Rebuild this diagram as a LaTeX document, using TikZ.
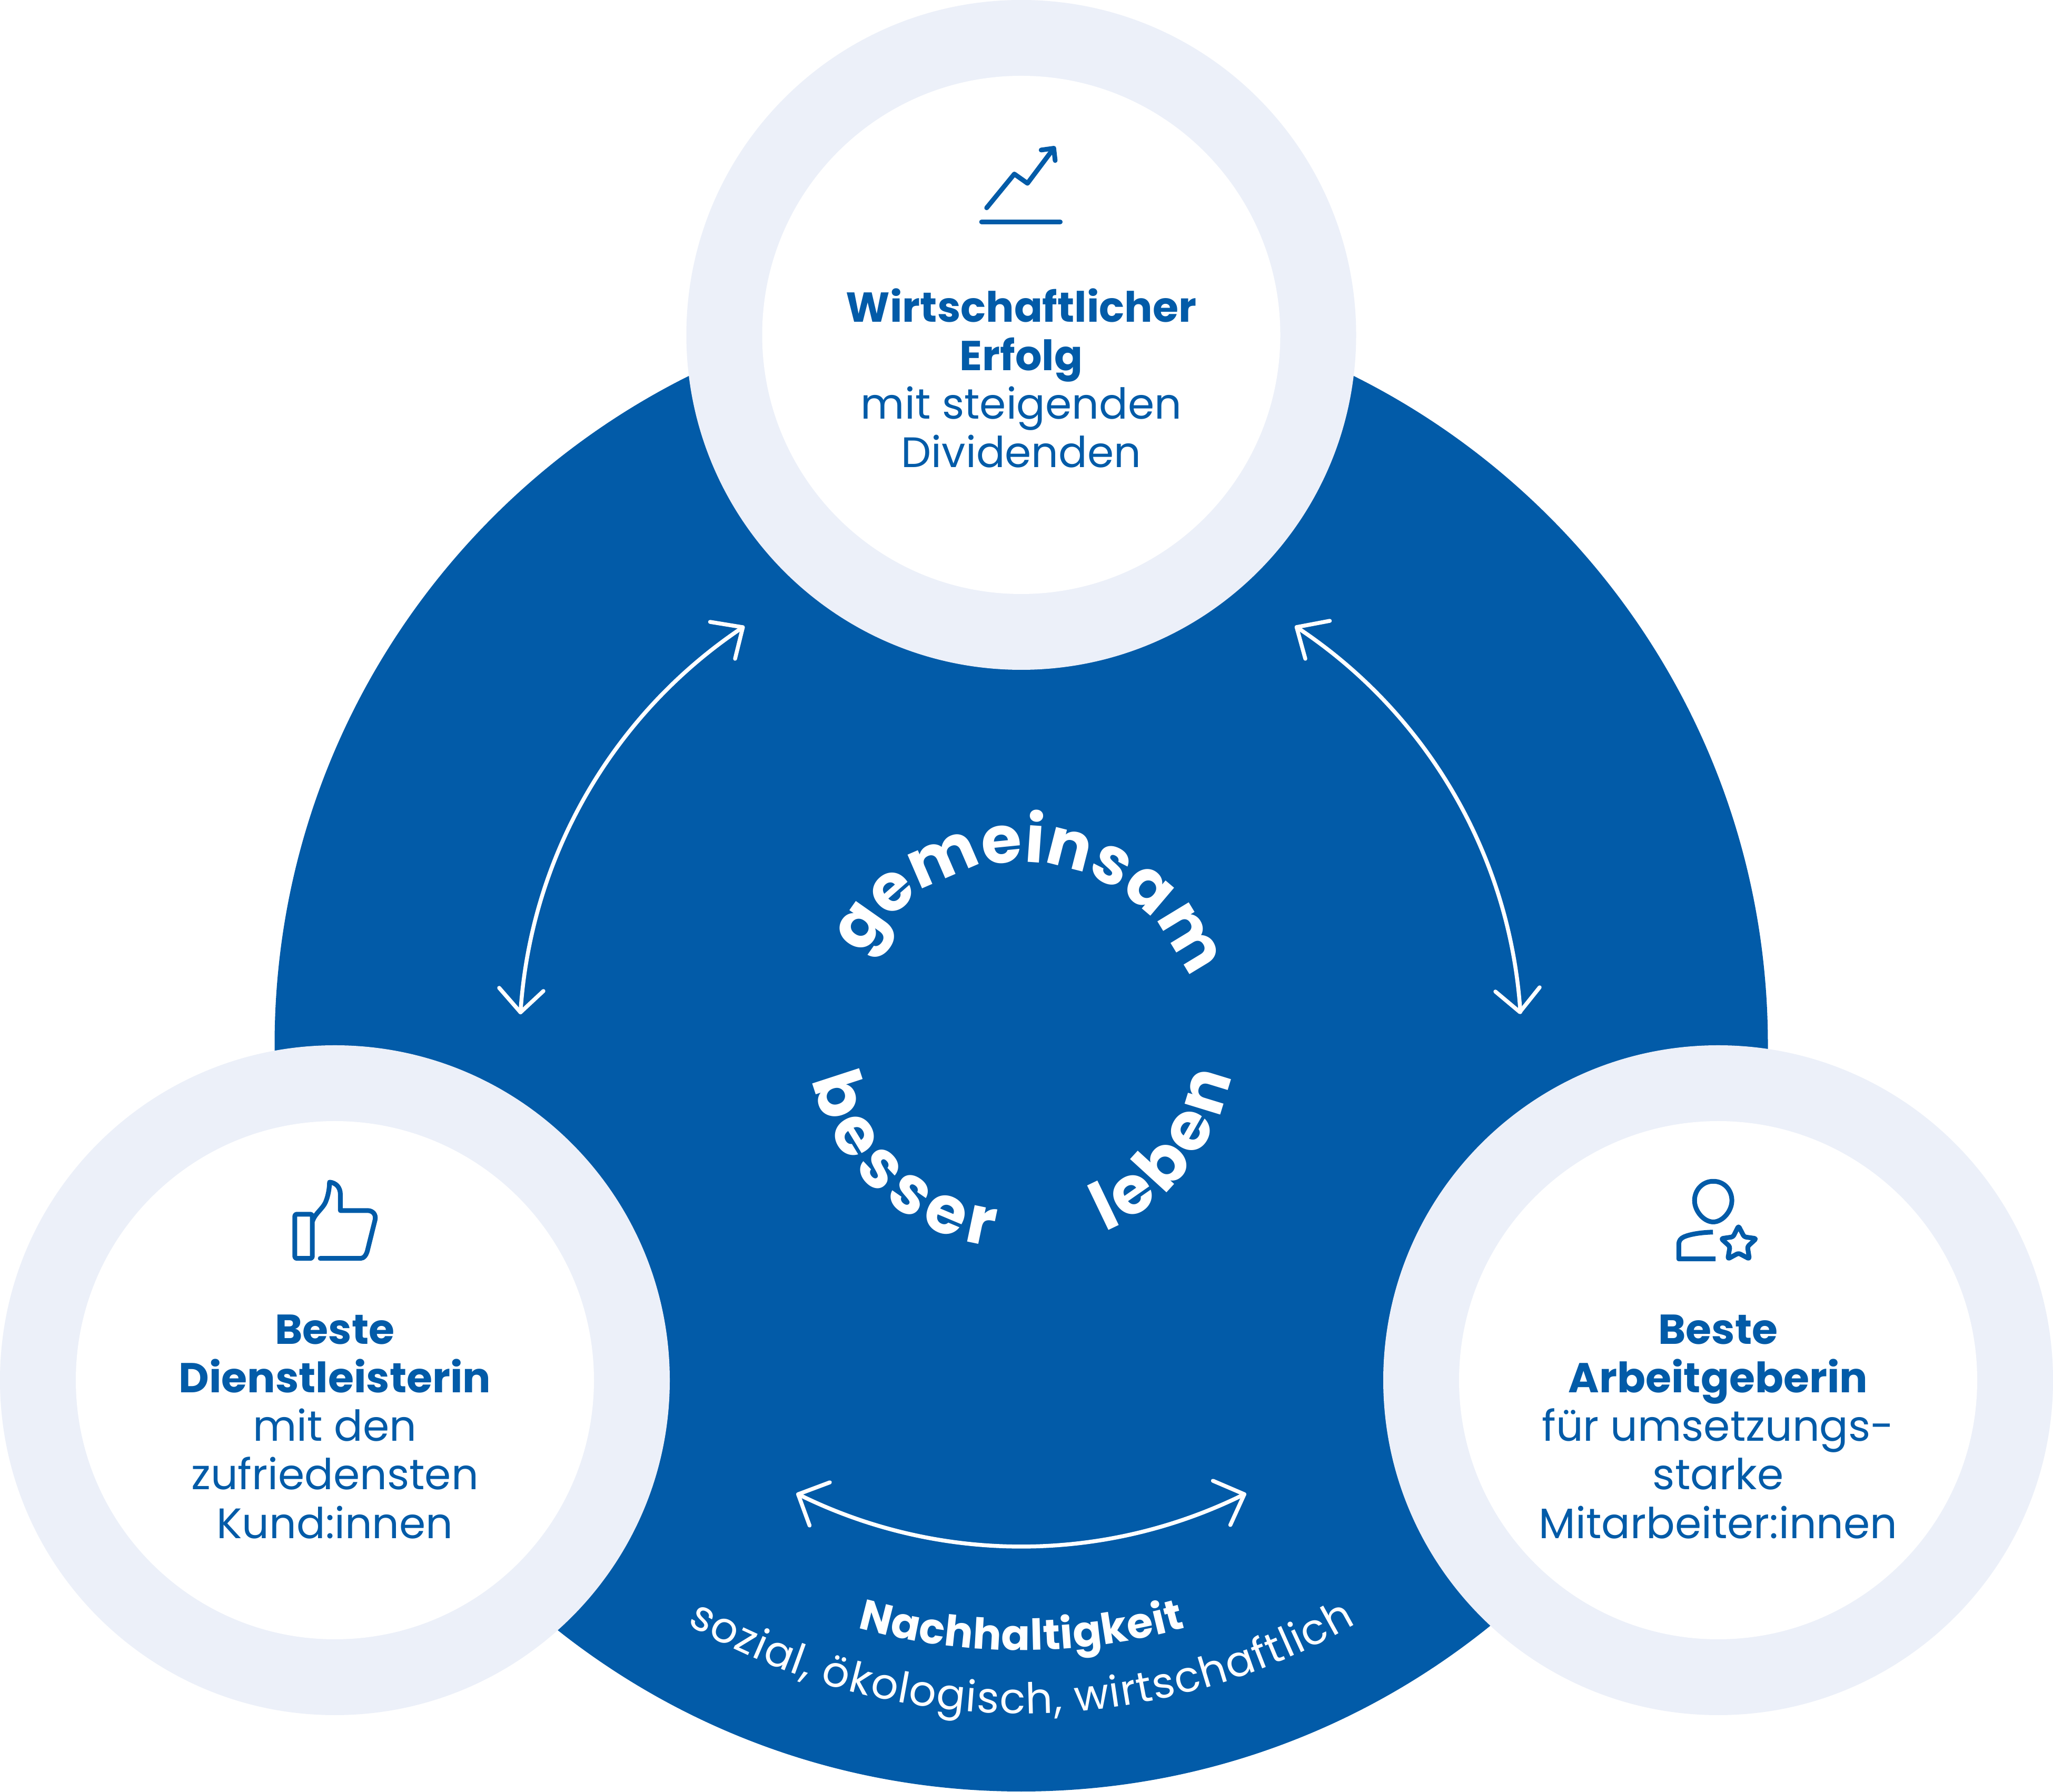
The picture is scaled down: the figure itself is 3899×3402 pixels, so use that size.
\documentclass[tikz,border=0pt]{standalone}
\usepackage{fontspec}
\setmainfont{Poppins}
\usetikzlibrary{decorations.text,calc}
\definecolor{brandblue}{HTML}{025BA8}
\definecolor{ringblue}{HTML}{ECF0F9}
\newcommand{\blockfont}{\fontsize{23}{26.2}\selectfont}
\newcommand{\headfont}{\fontsize{22.6}{26.2}\selectfont\bfseries}
\newcommand{\blocktext}[1]{\parbox[t]{9cm}{\blockfont\centering #1}}
\tikzset{
  blocklabel/.style={anchor=base,inner sep=0pt,text=brandblue},
  ring/.style={fill=ringblue},
  hole/.style={fill=white},
  connector/.style={draw=white,line width=0.075cm,line cap=round,line join=round},
  icon/.style={draw=brandblue,line width=0.09cm,line cap=round,line join=round},
}
\begin{document}
\begin{tikzpicture}[x=0.01cm,y=0.01cm]
\useasboundingbox[fill=white] (0,0) rectangle (3899,3402);
\coordinate (c) at (1939.5,1418);
\coordinate (ctop) at (1939.5,2766);
\coordinate (cleft) at (636,781);
\coordinate (cright) at (3263,781);
\coordinate (cupper) at (1939.5,1427);
\coordinate (cwords) at (1939.5,1437);
\fill[brandblue] (c) circle[radius=1418];
\foreach \p in {ctop,cleft,cright}{
  \fill[ring] (\p) circle[radius=636];
  \fill[hole] (\p) circle[radius=492];
}
% labels
\node[blocklabel] (toplabel) at (1939.5,2790.5) {\blocktext{{\headfont Wirtschaftlicher}\\{\headfont Erfolg}\\mit steigenden\\Dividenden}};
\node[blocklabel] (leftlabel) at (636,849.5) {\blocktext{{\headfont Beste}\\{\headfont Dienstleisterin}\\mit den\\zufriedensten\\Kund:innen}};
\node[blocklabel] (rightlabel) at (3263,849.5) {\blocktext{{\headfont Beste}\\{\headfont Arbeitgeberin}\\für umsetzungs-\\starke\\Mitarbeiter:innen}};
% connectors
\coordinate (la) at ([shift={(176.3:953)}]c);
\coordinate (lb) at ([shift={(123.7:953)}]c);
\coordinate (ra) at ([shift={(56.6:950)}]c);
\coordinate (rb) at ([shift={(3.75:949)}]c);
\coordinate (ba) at ([shift={(243.6:953)}]c);
\coordinate (bb) at ([shift={(296.4:953)}]c);
\draw[connector] (la) arc[start angle=176.3,end angle=123.7,radius=953];
\draw[connector] (948,1526) -- (la) -- (1032,1520);
\draw[connector] (1348.5,2221) -- (lb) -- (1396,2151);
\draw[connector] (ra) arc[start angle=56.6,end angle=3.75,radius=950];
\draw[connector] (2525.5,2223) -- (ra) -- (2479,2151);
\draw[connector] (2924,1527) -- (rb) -- (2840,1519);
\draw[connector] (ba) arc[start angle=243.6,end angle=296.4,radius=953];
\draw[connector] (1576,587) -- (ba) -- (1537.5,505);
\draw[connector] (2303.6,590) -- (bb) -- (2336.6,506);
% curved words
\path[decorate,decoration={text along path,text align={fit to path},text={|\fontsize{35.5}{40}\selectfont\bfseries\color{white}|gemeinsam}}] ([shift={(152:338)}]cupper) arc[start angle=152,end angle=26,radius=338];
\path[decorate,decoration={text along path,text align={fit to path},text={|\fontsize{36}{40}\selectfont\bfseries\color{white}|besser}}] ([shift={(192:406)}]cwords) arc[start angle=192,end angle=262,radius=406];
\path[decorate,decoration={text along path,text align={fit to path},text={|\fontsize{36}{40}\selectfont\bfseries\color{white}|leben}}] ([shift={(293:406)}]cwords) arc[start angle=293,end angle=349,radius=406];
\path[decorate,decoration={text along path,text align={fit to path},text={|\fontsize{23}{26}\selectfont\bfseries\color{white}|Nachhaltigkeit}}] ([shift={(254.3:1150)}]c) arc[start angle=254.3,end angle=285.7,radius=1150];
\path[decorate,decoration={text along path,text align={fit to path},text={|\fontsize{23}{26}\selectfont\color{white}|sozial, ökologisch, wirtschaftlich}}] ([shift={(240:1270)}]c) arc[start angle=240,end angle=300,radius=1270];
% chart icon
\begin{scope}[shift={(1750,3172)},x=0.00333cm,y=-0.00333cm]
\draw[icon] (372,495) -- (530,302) -- (605,355) -- (755,155);
\draw[icon] (683,165) -- (755,155) -- (763,225);
\draw[icon] (343,575) -- (792,575);
\end{scope}
% thumb icon
\begin{scope}[shift={(500,1212)},x=0.00333cm,y=-0.00333cm]
\draw[icon,rounded corners=1pt] (180,348) rectangle (280,600);
\draw[icon] (282,385) .. controls (295,345) and (340,315) .. (355,280) .. controls (370,245) and (378,200) .. (378,165) .. controls (415,168) and (440,195) .. (440,235) -- (440,327) -- (595,327) .. controls (625,327) and (645,350) .. (638,380) -- (597,545) .. controls (590,580) and (575,600) .. (555,600) -- (325,600);
\end{scope}
% person icon
\begin{scope}[shift={(3130,1202)},x=0.00333cm,y=-0.00333cm]
\draw[icon] (372,130) .. controls (435,130) and (478,180) .. (478,240) .. controls (478,300) and (425,362) .. (372,362) .. controls (318,362) and (265,300) .. (265,240) .. controls (265,180) and (310,130) .. (372,130) -- cycle;
\draw[icon,line cap=butt] (370,420) .. controls (300,422) and (240,432) .. (205,447) .. controls (185,456) and (175,470) .. (175,490) -- (175,573) -- (385,573);
\draw[icon,rounded corners=1pt] (516,385) -- (548,447) -- (617,457) -- (567,503) -- (578,573) -- (516,540) -- (455,573) -- (467,503) -- (417,457) -- (485,447) -- cycle;
\end{scope}
\end{tikzpicture}
\end{document}
